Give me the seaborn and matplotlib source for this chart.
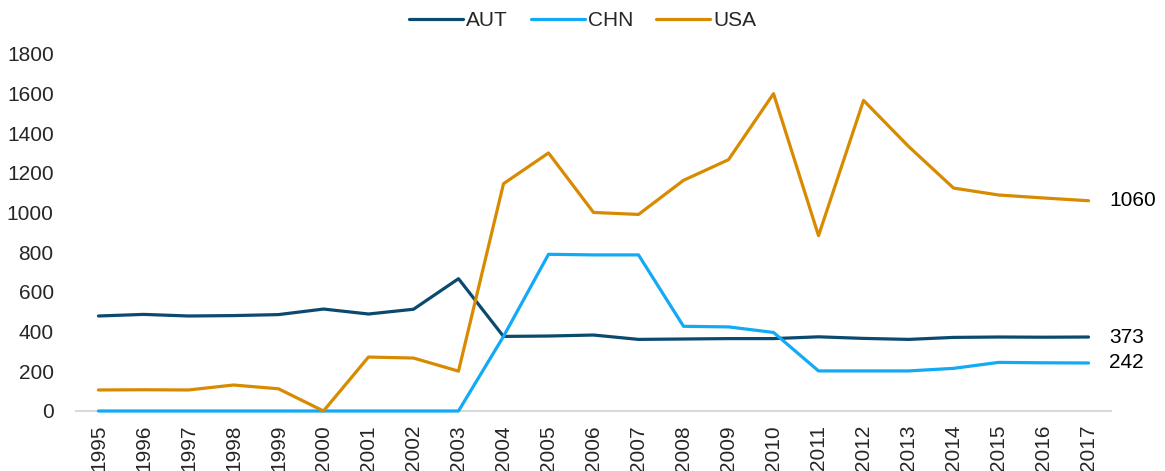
import matplotlib
matplotlib.use("Agg")
import matplotlib.pyplot as plt
import seaborn as sns
import pandas as pd

years = list(range(1995, 2018))
aut = [479, 487, 479, 481, 486, 514, 489, 513, 667, 376, 378, 383, 361, 363, 365, 365, 374, 366, 361, 371, 373, 372, 373]
chn = [0, 0, 0, 0, 0, 0, 0, 0, 0, 376, 790, 787, 787, 427, 424, 396, 202, 202, 202, 215, 245, 243, 242]
usa = [106, 107, 106, 131, 112, 0, 272, 267, 201, 1146, 1301, 1001, 991, 1163, 1267, 1600, 884, 1566, 1334, 1124, 1089, 1074, 1060]
series_names = ["AUT", "CHN", "USA"]
colors = ["#0B4A6F", "#12A9F7", "#D88A00"]
end_labels = ["373", "242", "1060"]
y_ticks = [0, 200, 400, 600, 800, 1000, 1200, 1400, 1600, 1800]

df = pd.concat([
    pd.DataFrame({"year": years, "value": vals, "series": name})
    for name, vals in zip(series_names, [aut, chn, usa])
])

sns.set_theme(style="white")
plt.rcParams["font.family"] = ["Liberation Sans", "DejaVu Sans"]

FS = 15
fig = plt.figure(figsize=(11.65, 4.71), dpi=100)
ax = fig.add_axes([0.0652, 0.1274, 0.8885, 0.758])

sns.lineplot(data=df, x="year", y="value", hue="series", palette=colors,
             hue_order=series_names, linewidth=2.3, ax=ax, legend=True)
for ln in ax.get_lines():
    ln.set_clip_on(False)
    ln.set_zorder(3)

ax.set_xlim(years[0] - 0.5, years[-1] + 0.5)
ax.set_ylim(0, 1800)
ax.set_xticks(years)
ax.set_xticklabels([str(y) for y in years], rotation=90, fontsize=FS)
ax.set_yticks(y_ticks)
ax.set_yticklabels([str(t) for t in y_ticks], fontsize=FS)
ax.tick_params(axis="both", length=0)
ax.tick_params(axis="y", pad=16)
ax.tick_params(axis="x", pad=10)
ax.set_xlabel("")
ax.set_ylabel("")
for s in ["top", "right", "left"]:
    ax.spines[s].set_visible(False)
ax.spines["bottom"].set_color("#D9D9D9")
ax.spines["bottom"].set_linewidth(1.5)
ax.spines["bottom"].set_zorder(1)
ax.grid(False)

for vals, lab in zip([aut, chn, usa], end_labels):
    ax.annotate(lab, xy=(years[-1], vals[-1]), xytext=(15, 0), textcoords="offset points",
                va="center", ha="left", fontsize=FS, color="black", annotation_clip=False)

handles, labels = ax.get_legend_handles_labels()
ax.get_legend().remove()
fig.legend(handles, labels, loc="center", bbox_to_anchor=(0.5, 1 - 21 / 471), ncol=3,
           frameon=False, fontsize=FS, handlelength=2.6, columnspacing=1.1,
           handletextpad=0.15, borderpad=0)

fig.savefig("out.png", dpi=100)
